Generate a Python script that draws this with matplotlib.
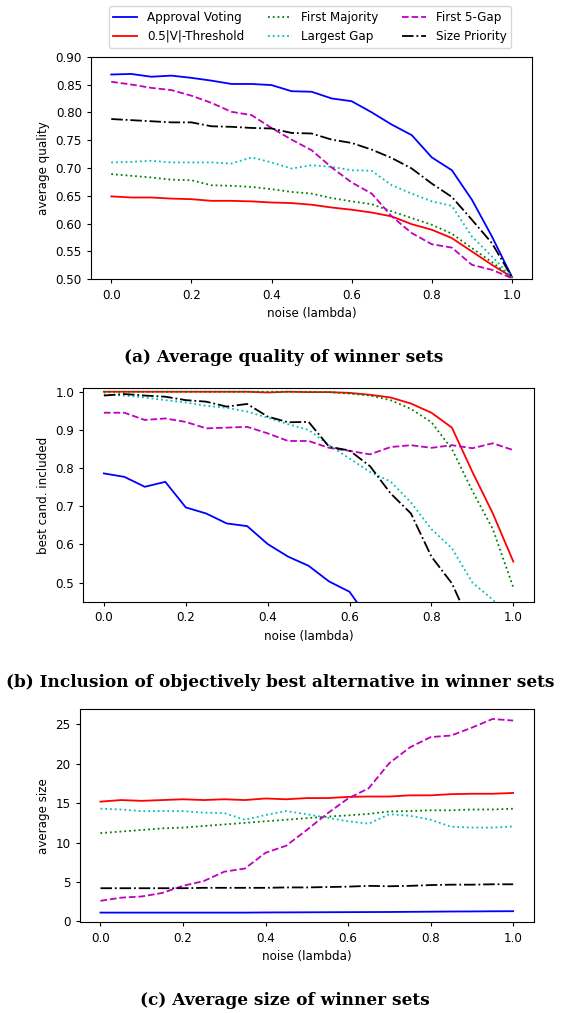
import matplotlib
matplotlib.use("Agg")
import matplotlib.pyplot as plt
import numpy as np

noise = [round(0.05 * i, 2) for i in range(21)]

labels = ["Approval Voting", "0.5|V|-Threshold", "First Majority",
          "Largest Gap", "First 5-Gap", "Size Priority"]

# (a) average quality
qual_av = [0.868, 0.869, 0.864, 0.866, 0.862, 0.857, 0.851, 0.851, 0.849, 0.838, 0.837,
           0.825, 0.820, 0.800, 0.778, 0.759, 0.719, 0.696, 0.643, 0.577, 0.504]
qual_thr = [0.649, 0.647, 0.647, 0.645, 0.644, 0.641, 0.641, 0.640, 0.638, 0.637, 0.634,
            0.629, 0.625, 0.620, 0.613, 0.599, 0.589, 0.574, 0.550, 0.526, 0.504]
qual_fm = [0.689, 0.686, 0.683, 0.679, 0.678, 0.669, 0.668, 0.666, 0.662, 0.657, 0.654,
           0.646, 0.640, 0.635, 0.622, 0.610, 0.598, 0.582, 0.556, 0.531, 0.504]
qual_lg = [0.710, 0.711, 0.713, 0.710, 0.710, 0.710, 0.708, 0.719, 0.710, 0.699, 0.705,
           0.702, 0.696, 0.695, 0.669, 0.654, 0.640, 0.632, 0.577, 0.541, 0.504]
qual_f5 = [0.855, 0.850, 0.844, 0.840, 0.830, 0.817, 0.801, 0.795, 0.772, 0.751, 0.732,
           0.701, 0.674, 0.654, 0.613, 0.583, 0.563, 0.557, 0.526, 0.517, 0.502]
qual_sp = [0.788, 0.786, 0.784, 0.782, 0.782, 0.775, 0.774, 0.772, 0.771, 0.763, 0.762,
           0.751, 0.745, 0.733, 0.718, 0.699, 0.672, 0.648, 0.607, 0.565, 0.504]

# (b) best candidate included
best_av = [0.786, 0.777, 0.751, 0.764, 0.697, 0.681, 0.655, 0.648, 0.601, 0.568, 0.544,
           0.503, 0.476, 0.40, 0.36, 0.32, 0.29, 0.26, 0.23, 0.21, 0.19]
best_thr = [1.0, 1.0, 1.0, 1.0, 1.0, 1.0, 1.0, 1.0, 0.998, 1.0, 0.999,
            0.999, 0.997, 0.992, 0.985, 0.969, 0.945, 0.906, 0.79, 0.681, 0.555]
best_fm = [1.0, 1.0, 1.0, 1.0, 1.0, 1.0, 1.0, 1.0, 1.0, 1.0, 1.0,
           0.999, 0.995, 0.990, 0.978, 0.955, 0.920, 0.850, 0.740, 0.640, 0.487]
best_lg = [0.993, 0.990, 0.985, 0.978, 0.972, 0.963, 0.958, 0.948, 0.932, 0.915, 0.900,
           0.860, 0.825, 0.790, 0.765, 0.710, 0.640, 0.590, 0.500, 0.455, 0.40]
best_f5 = [0.945, 0.945, 0.926, 0.930, 0.921, 0.904, 0.906, 0.908, 0.891, 0.871, 0.871,
           0.853, 0.845, 0.836, 0.855, 0.860, 0.853, 0.860, 0.852, 0.865, 0.847]
best_sp = [0.990, 0.994, 0.990, 0.987, 0.978, 0.974, 0.961, 0.968, 0.935, 0.920, 0.921,
           0.856, 0.846, 0.805, 0.734, 0.681, 0.568, 0.498, 0.38, 0.31, 0.26]

# (c) average size
size_av = [1.10, 1.10, 1.10, 1.10, 1.10, 1.10, 1.10, 1.10, 1.12, 1.13, 1.14,
           1.15, 1.16, 1.17, 1.18, 1.20, 1.22, 1.24, 1.25, 1.27, 1.28]
size_thr = [15.2, 15.4, 15.3, 15.4, 15.5, 15.4, 15.5, 15.4, 15.6, 15.5, 15.65,
            15.65, 15.8, 15.85, 15.85, 16.0, 16.0, 16.15, 16.2, 16.2, 16.3]
size_fm = [11.2, 11.4, 11.6, 11.8, 11.9, 12.1, 12.3, 12.5, 12.7, 12.9, 13.1,
           13.3, 13.45, 13.65, 13.95, 14.0, 14.1, 14.1, 14.2, 14.2, 14.3]
size_lg = [14.3, 14.2, 14.0, 14.0, 14.0, 13.8, 13.75, 12.9, 13.5, 14.0, 13.6,
           13.15, 12.7, 12.4, 13.6, 13.4, 12.9, 12.0, 11.9, 11.9, 12.05]
size_f5 = [2.6, 3.0, 3.15, 3.6, 4.5, 5.1, 6.3, 6.7, 8.7, 9.6, 11.6,
           13.7, 15.6, 16.9, 20.1, 22.1, 23.4, 23.6, 24.6, 25.7, 25.5]
size_sp = [4.2, 4.2, 4.2, 4.2, 4.2, 4.25, 4.25, 4.25, 4.25, 4.3, 4.3,
           4.35, 4.4, 4.5, 4.45, 4.5, 4.6, 4.65, 4.65, 4.7, 4.7]

styles = ["b-", "r-", "g:", "c:", "m--", "k-."]

captions = ["(a) Average quality of winner sets",
            "(b) Inclusion of objectively best alternative in winner sets",
            "(c) Average size of winner sets"]

W, H = 561, 1013
fig = plt.figure(figsize=(W / 100, H / 100), dpi=100)
FS = 8.6

def frac(l, t, r, b):
    return [l / W, 1 - b / H, (r - l) / W, (b - t) / H]

ax_a = fig.add_axes(frac(91.2, 56.7, 532.0, 279.3))
ax_b = fig.add_axes(frac(83.4, 388.3, 533.8, 601.7))
ax_c = fig.add_axes(frac(79.8, 709.3, 533.8, 922.3))

series_a = [qual_av, qual_thr, qual_fm, qual_lg, qual_f5, qual_sp]
series_b = [best_av, best_thr, best_fm, best_lg, best_f5, best_sp]
series_c = [size_av, size_thr, size_fm, size_lg, size_f5, size_sp]

handles = []
for ax, series in [(ax_a, series_a), (ax_b, series_b), (ax_c, series_c)]:
    hs = []
    for ys, st, lab in zip(series, styles, labels):
        h, = ax.plot(noise, ys, st, lw=1.3, label=lab)
        hs.append(h)
    if not handles:
        handles = hs
    ax.set_xlabel("noise (lambda)", fontsize=FS)
    ax.tick_params(labelsize=FS, length=3.2, width=0.8)
    ax.set_xticks([0.0, 0.2, 0.4, 0.6, 0.8, 1.0])
    for sp in ax.spines.values():
        sp.set_linewidth(0.8)

ax_a.set_ylabel("average quality", fontsize=FS)
ax_a.set_ylim(0.50, 0.90)
ax_a.set_yticks(np.arange(0.50, 0.901, 0.05))
ax_b.set_ylabel("best cand. included", fontsize=FS)
ax_b.set_ylim(0.45, 1.009)
ax_b.set_yticks([0.5, 0.6, 0.7, 0.8, 0.9, 1.0])
ax_c.set_ylabel("average size", fontsize=FS)

fig.legend(handles=handles, labels=labels, ncol=3, fontsize=FS,
           loc="center", bbox_to_anchor=(310 / W, 1 - 27 / H),
           handlelength=2.0, frameon=True)

cap_kw = dict(ha="center", va="center", fontsize=12.2, fontweight="bold",
              family=["DejaVu Serif"])
fig.text(284 / W, 1 - 357 / H, captions[0], **cap_kw)
fig.text(280 / W, 1 - 682 / H, captions[1], **cap_kw)
fig.text(285 / W, 1 - 1000 / H, captions[2], **cap_kw)

fig.savefig("out.png", dpi=100)
